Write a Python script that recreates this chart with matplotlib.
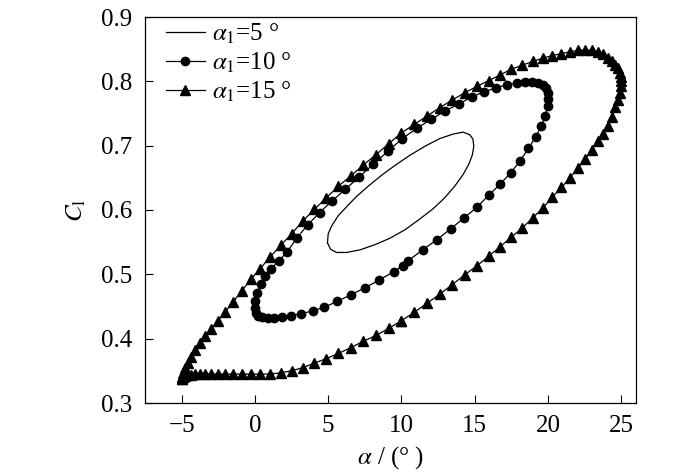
import matplotlib
matplotlib.use("Agg")
import matplotlib.pyplot as plt

plt.rcParams['font.family'] = ['Liberation Serif', 'DejaVu Serif']
plt.rcParams['mathtext.fontset'] = 'stix'

# ---- data ----
alpha_5 = [4.95, 5.0, 5.23, 5.68, 6.25, 6.93, 7.73, 8.64, 9.54, 10.57, 11.59, 12.61,
           13.52, 14.2, 14.66, 14.88, 14.93, 14.84, 14.59, 14.2, 13.63, 12.95, 12.16,
           11.25, 10.22, 9.2, 8.18, 7.16, 6.25, 5.57, 5.16, 4.95]
cl_5 = [0.549, 0.563, 0.575, 0.591, 0.605, 0.621, 0.637, 0.654, 0.669, 0.685, 0.699, 0.711,
        0.718, 0.721, 0.717, 0.710, 0.699, 0.686, 0.671, 0.655, 0.637, 0.619, 0.602,
        0.586, 0.569, 0.556, 0.546, 0.538, 0.534, 0.534, 0.539, 0.549]

alpha_10 = [10.45, 11.44, 12.42, 13.37, 14.28, 15.13, 15.95, 16.73, 17.45, 18.09, 18.66, 19.15,
            19.54, 19.81, 19.97, 20.0, 19.98, 19.86, 19.64, 19.33, 18.92, 18.42, 17.85, 17.19,
            16.47, 15.66, 14.82, 13.92, 12.99, 12.03, 11.05, 10.05, 9.06, 8.07, 7.09, 6.16,
            5.26, 4.41, 3.61, 2.87, 2.21, 1.62, 1.12, 0.71, 0.39, 0.16, 0.03, 0.0, 0.07, 0.24,
            0.51, 0.86, 1.31, 1.86, 2.48, 3.17, 3.93, 4.74, 5.62, 6.53, 7.5, 8.47, 9.46, 10.07]
cl_10 = [0.521, 0.538, 0.554, 0.571, 0.588, 0.604, 0.623, 0.640, 0.658, 0.676, 0.696, 0.713,
         0.731, 0.746, 0.761, 0.773, 0.782, 0.789, 0.794, 0.797, 0.799, 0.799, 0.797, 0.795,
         0.790, 0.784, 0.776, 0.765, 0.754, 0.741, 0.727, 0.711, 0.691, 0.671, 0.651, 0.632,
         0.614, 0.596, 0.577, 0.557, 0.535, 0.521, 0.509, 0.498, 0.485, 0.471, 0.458, 0.447,
         0.440, 0.435, 0.433, 0.432, 0.432, 0.433, 0.436, 0.439, 0.443, 0.449, 0.458, 0.468,
         0.479, 0.491, 0.504, 0.513]

alpha_15 = [10.0, 10.87, 11.74, 12.60, 13.46, 14.30, 15.13, 15.94, 16.73, 17.50, 18.24, 18.96,
            19.64, 20.29, 20.91, 21.49, 22.03, 22.53, 22.99, 23.40, 23.77, 24.10, 24.37, 24.60,
            24.77, 24.90, 24.97, 25.0,
            24.97, 24.90, 24.77, 24.60, 24.37, 24.10, 23.77, 23.40, 22.99, 22.53, 22.03, 21.49,
            20.91, 20.29, 19.64, 18.96, 18.24, 17.50, 16.73, 15.94, 15.13, 14.30, 13.46, 12.60,
            11.74, 10.87, 10.0,
            9.13, 8.26, 7.40, 6.54, 5.70, 4.87, 4.06, 3.27, 2.50, 1.76, 1.04, 0.36, -0.29, -0.91,
            -1.49, -2.03, -2.53, -2.99, -3.40, -3.77, -4.10, -4.37, -4.60, -4.77, -4.90, -4.97, -5.0,
            -4.97, -4.90, -4.77, -4.60, -4.37, -4.10, -3.77, -3.40, -2.99, -2.53, -2.03, -1.49,
            -0.91, -0.29, 0.36, 1.04, 1.76, 2.50, 3.27, 4.06, 4.87, 5.70, 6.54, 7.40, 8.26, 9.13, 10.0]
cl_15 = [0.428, 0.441, 0.455, 0.469, 0.484, 0.499, 0.513, 0.528, 0.543, 0.558, 0.572, 0.588,
         0.603, 0.620, 0.635, 0.650, 0.665, 0.679, 0.694, 0.707, 0.718, 0.731, 0.745, 0.760,
         0.771, 0.782, 0.792, 0.800,
         0.807, 0.813, 0.820, 0.826, 0.832, 0.837, 0.842, 0.846, 0.848, 0.849, 0.848, 0.846,
         0.843, 0.840, 0.836, 0.831, 0.825, 0.819, 0.810, 0.801, 0.792, 0.782, 0.771, 0.759,
         0.746, 0.733, 0.720,
         0.703, 0.686, 0.670, 0.653, 0.637, 0.619, 0.601, 0.583, 0.563, 0.545, 0.527, 0.509,
         0.492, 0.474, 0.457, 0.442, 0.428, 0.415, 0.404, 0.393, 0.383, 0.372, 0.362, 0.354,
         0.347, 0.341, 0.337,
         0.338, 0.340, 0.342, 0.343, 0.344, 0.345, 0.345, 0.345, 0.345, 0.345, 0.345, 0.345,
         0.345, 0.345, 0.345, 0.345, 0.347, 0.350, 0.355, 0.362, 0.369, 0.377, 0.386, 0.396,
         0.405, 0.416, 0.428]

labels = [r'$\alpha_1$=5 °', r'$\alpha_1$=10 °', r'$\alpha_1$=15 °']
x_ticks = [-5, 0, 5, 10, 15, 20, 25]
y_ticks = [0.3, 0.4, 0.5, 0.6, 0.7, 0.8, 0.9]

# ---- figure ----
fig = plt.figure(figsize=(7.0, 4.76), dpi=100)
ax = fig.add_axes([145/700, 1-403/476, (636-145)/700, (403-17)/476])

lw = 0.9
ax.plot(alpha_5, cl_5, color='black', lw=lw, label=labels[0])
ax.plot(alpha_10, cl_10, color='black', lw=lw, marker='o', ms=6, label=labels[1])
ax.plot(alpha_15, cl_15, color='black', lw=lw, marker='^', ms=6.5, label=labels[2])

ax.set_xlim(-7.5, 26)
ax.set_ylim(0.3, 0.9)
ax.set_xticks(x_ticks)
ax.set_yticks(y_ticks)
ax.set_yticklabels([f'{v:.1f}' for v in y_ticks])
ax.set_xticklabels(['\u22125' if v < 0 else str(v) for v in x_ticks])
ax.tick_params(direction='in', length=5.5, width=0.8, labelsize=18,
               top=False, right=False)
ax.tick_params(axis='x', pad=9)
ax.tick_params(axis='y', pad=9.5)
for s in ax.spines.values():
    s.set_linewidth(0.9)

ax.set_xlabel(r'$\alpha$ / (° )', fontsize=18, labelpad=5)
ax.set_ylabel(r'$C_{\rm l}$', fontsize=18, labelpad=9)

leg = ax.legend(loc='upper left', bbox_to_anchor=(0.04, 0.992), frameon=False,
                fontsize=18, handlelength=1.55, handletextpad=0.3, labelspacing=0.2,
                borderpad=0.05, borderaxespad=0.0, numpoints=1)

fig.savefig('out.png', dpi=100)
